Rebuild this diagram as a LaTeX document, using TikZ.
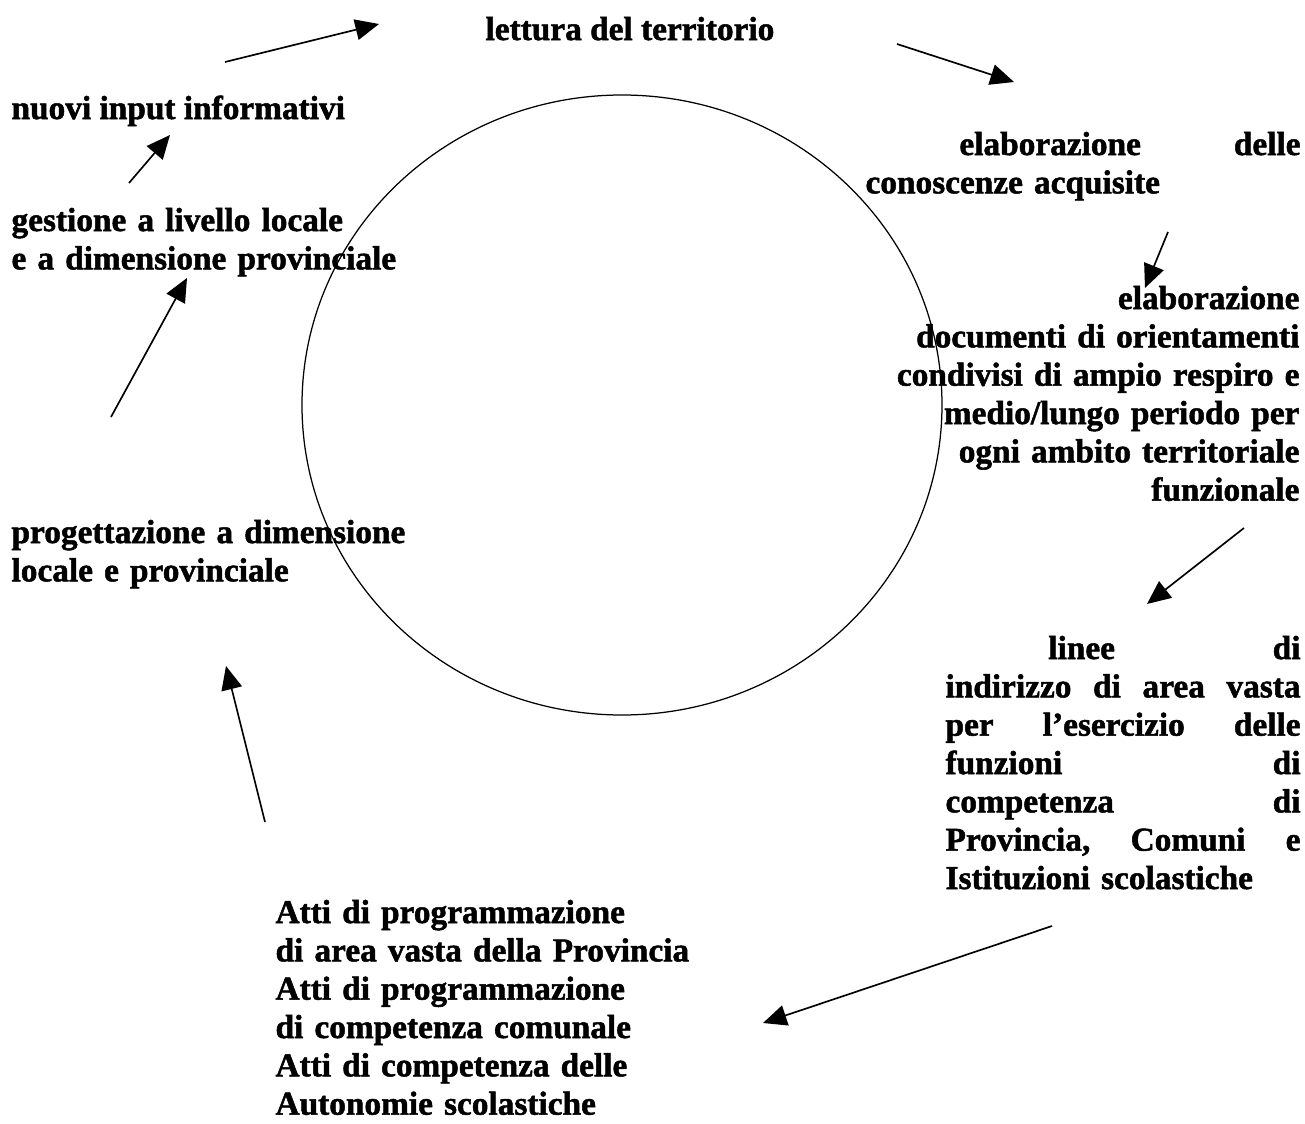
\documentclass[tikz,border=0pt]{standalone}
\usepackage{fontspec}
\setmainfont{Liberation Serif}[BoldFeatures={FakeBold=1.5}]
\usetikzlibrary{shapes,arrows.meta,positioning}

\begin{document}
\begin{tikzpicture}[x=0.36pt, y=-0.36pt]
        % Define block styles
        \tikzstyle{phase} = [inner sep=0pt, font=\bfseries\fontsize{12pt}{13.8pt}\selectfont]
        \tikzstyle{ring} = [ellipse, draw, line width=0.45pt, minimum width=230.4pt, minimum height=223.2pt, inner sep=0pt]
        \tikzstyle{line} = [draw, line width=0.6pt, -{Triangle[length=8.5pt, width=7.5pt]}]

        \useasboundingbox (0,0) rectangle (1305,1124);

        % Define nodes
        \node [ring] (ring) at (622,405) {};
        \node [phase, anchor=base west] (lettura) at (485,40) {lettura del territorio};
        \node [phase, anchor=base west] (input) at (11,119) {nuovi input informativi};
        \node [phase, anchor=base west, text width=160pt, align=left] (gestione) at (11,231) {gestione a livello locale\\ e a dimensione provinciale};
        \node [phase, anchor=base west, text width=156.6pt, align=left] (conoscenze) at (865,155) {\hspace*{33.8pt}elaborazione\hfill delle\\ conoscenze acquisite};
        \node [phase, anchor=base east, text width=155pt, align=right] (documenti) at (1300,309) {elaborazione\\ documenti di orientamenti\\ condivisi di ampio respiro e\\ medio/lungo periodo per\\ ogni ambito territoriale\\ funzionale};
        \node [phase, anchor=base west, text width=160pt, align=left] (progetto) at (11,543) {progettazione a dimensione\\ locale e provinciale};
        \node [phase, anchor=base west, text width=127.8pt, align=left] (linee) at (945,659) {\hspace*{37pt}linee\hfill di\\ indirizzo\hfill di\hfill area\hfill vasta\\ per\hfill l'esercizio\hfill delle\\ funzioni\hfill di\\ competenza\hfill di\\ Provincia,\hfill Comuni\hfill e\\ Istituzioni scolastiche};
        \node [phase, anchor=base west, text width=170pt, align=left] (atti) at (275,923) {Atti di programmazione\\ di area vasta della Provincia\\ Atti di programmazione\\ di competenza comunale\\ Atti di competenza delle\\ Autonomie scolastiche};

        % Define arrow ends
        \coordinate (a1s) at (225,62);   \coordinate (a1e) at (379,24);
        \coordinate (a2s) at (897,44);   \coordinate (a2e) at (1014,82);
        \coordinate (a3s) at (1168,232); \coordinate (a3e) at (1145,288);
        \coordinate (a4s) at (1244,528); \coordinate (a4e) at (1147,604);
        \coordinate (a5s) at (1052,926); \coordinate (a5e) at (763,1023);
        \coordinate (a6s) at (265,822);  \coordinate (a6e) at (226,666);
        \coordinate (a7s) at (111,417);  \coordinate (a7e) at (187,278);
        \coordinate (a8s) at (129,183);  \coordinate (a8e) at (170,135);

        % Connect nodes with paths
        \draw[line] (a1s) -- (a1e);
        \draw[line] (a2s) -- (a2e);
        \draw[line] (a3s) -- (a3e);
        \draw[line] (a4s) -- (a4e);
        \draw[line] (a5s) -- (a5e);
        \draw[line] (a6s) -- (a6e);
        \draw[line] (a7s) -- (a7e);
        \draw[line] (a8s) -- (a8e);

    \end{tikzpicture}
\end{document}
